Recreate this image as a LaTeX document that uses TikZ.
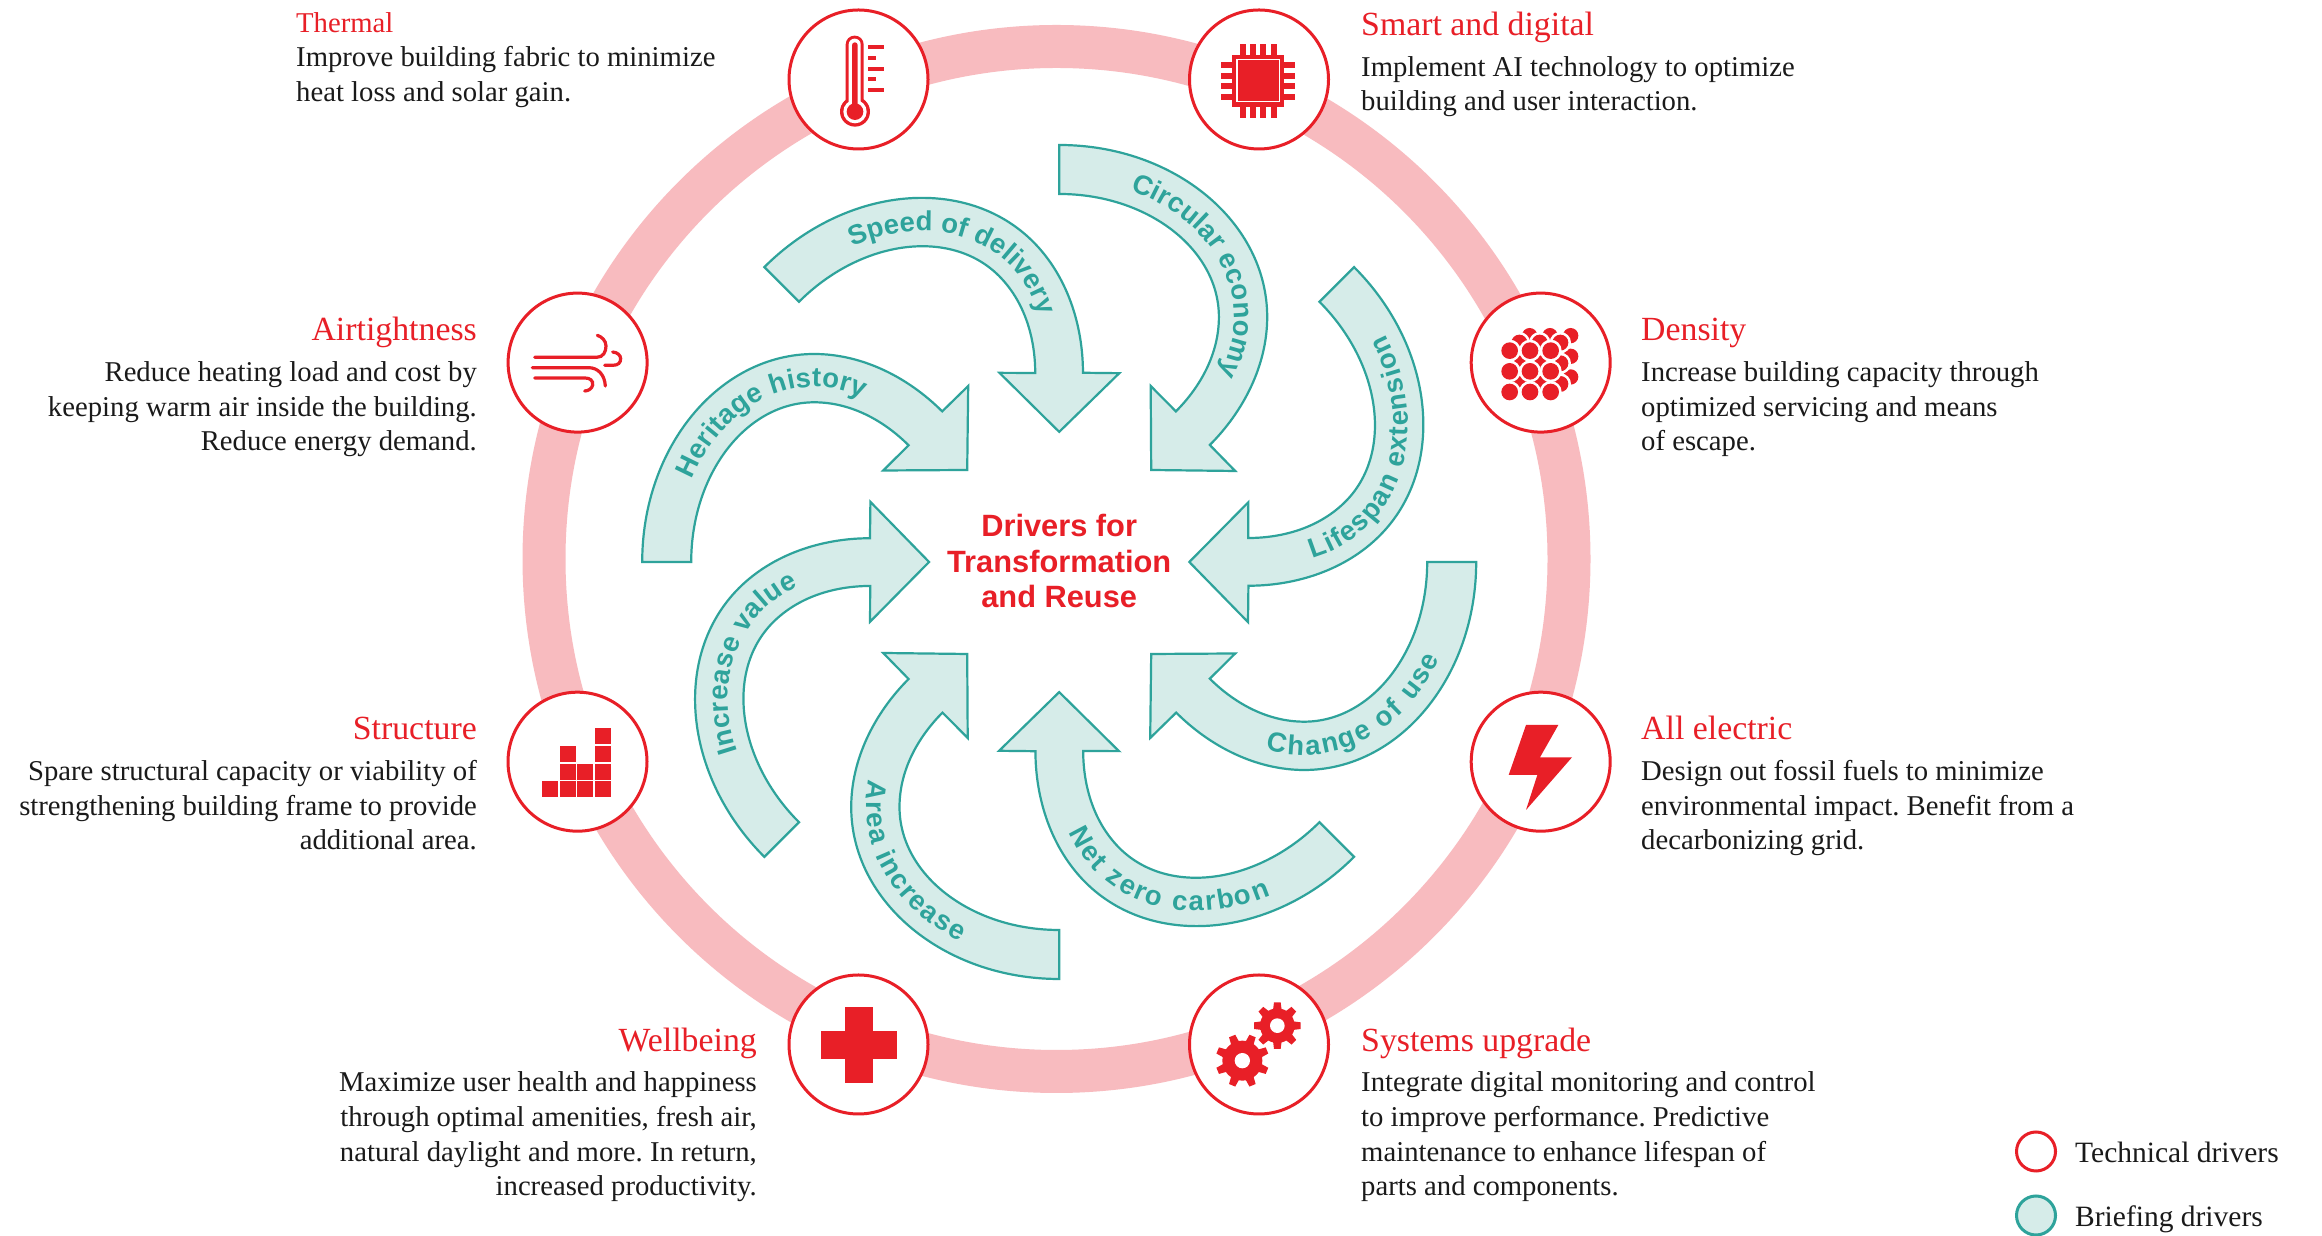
\documentclass[tikz,border=0pt]{standalone}
\usepackage{fontspec}
\setmainfont{Liberation Serif}
\newfontfamily\sansf{Liberation Sans}
\usetikzlibrary{decorations.text}
\frenchspacing
\definecolor{redc}{HTML}{E81F27}
\definecolor{pinkc}{HTML}{F8BBBF}
\definecolor{tealc}{HTML}{2EA39B}
\definecolor{tealf}{HTML}{D6ECE9}
\definecolor{inkc}{HTML}{1A1A1A}
\newcommand\arrowfont{\sansf\bfseries\fontsize{27.5}{27.5}\selectfont\color{tealc}}
\newcommand\bodyfont{\frenchspacing\fontsize{28.7}{34.7}\selectfont}
\newcommand\titlefont{\fontsize{33.8}{34.7}\selectfont}
\newcommand\ttl[1]{{\titlefont\color{redc}#1}}
\newcommand\drivertext[6]{%
  \path[rotate=#1,decorate,decoration={text along path,text align={fit to path},text={|\arrowfont|#6}}]
    (0,245) ++(#4:#2 and #3) arc[start angle=#4,end angle=#5,x radius=#2,y radius=#3];}
\tikzset{
  zoomed/.style 2 args={shift={(#1,#2)},x=0.33333pt,y=-0.33333pt},
  iconline/.style={draw=redc,line width=3.2pt,line cap=round,fill=none},
  driver/.style={circle,draw=redc,line width=3pt,fill=white,minimum size=139pt,inner sep=0pt},
  legendtech/.style={circle,draw=redc,line width=3pt,fill=white,minimum size=39pt,inner sep=0pt},
  legendbrief/.style={circle,draw=tealc,line width=3pt,fill=tealf,minimum size=39pt,inner sep=0pt},
  leftblock/.style={anchor=base west,align=left,inner sep=0pt,text=inkc,font=\bodyfont},
  rightblock/.style={anchor=base east,align=right,inner sep=0pt,text=inkc,font=\bodyfont},
  legendtext/.style={anchor=base west,inner sep=0pt,text=inkc,font=\fontsize{29.5}{34}\selectfont},
  centretext/.style={align=center,inner sep=0pt,text=redc,font=\sansf\bfseries\fontsize{30.8}{35.5}\selectfont},
  arrowshape/.style={fill=tealf,draw=tealc,line width=2.2pt,line join=miter}
}
\newcommand\gearshape[5]{% cx cy outer body rot
  \foreach \t in {0,45,...,315}{
    \fill[redc,rotate around={\t+#5:(#1,#2)}] (#1-13,#2-#4+6) -- (#1-10,#2-#3) -- (#1+10,#2-#3) -- (#1+13,#2-#4+6) -- cycle;
  }
}
\begin{document}
\begin{tikzpicture}[x=1pt,y=1pt]
\useasboundingbox (0,0) rectangle (2322,1236);
\fill[white] (0,0) rectangle (2322,1236);
% ring
\draw[pinkc,line width=43pt] (1056.5,1236-559) circle[radius=512.5];
% arrows
\begin{scope}[shift={(1059.2,674)}]
\foreach \a in {45,0,-45,-90,-135,-180,-225,-270}{
  \draw[arrowshape,rotate=\a]
    (0,417) .. controls (115,417) and (208,340) .. (208,245)
    .. controls (208,197) and (184.6,151) .. (150.6,117)
    -- (176,91) -- (92,92) -- (91.5,176) -- (116.7,150.6)
    .. controls (142,176) and (159.7,209) .. (159.7,245)
    .. controls (159.7,313) and (88,368) .. (0,368) -- cycle;
}
% arrow labels
\drivertext{45}{175}{138.5}{64}{-24}{Speed of delivery}
\drivertext{0}{175}{138.5}{66}{-24}{Circular economy}
\drivertext{-45}{193}{156.5}{-24}{69}{Lifespan extension}
\drivertext{-90}{193}{156.5}{-14.3}{60}{Change of use}
\drivertext{-135}{193}{156.5}{-17.5}{63.5}{Net zero carbon}
\drivertext{-180}{193}{156.5}{-10}{59}{Area increase}
\drivertext{135}{175}{138.5}{57.7}{-18}{Increase value}
\drivertext{90}{175}{138.5}{61.8}{-20.5}{Heritage history}
\end{scope}
\begin{scope}[shift={(0,1236)},y=-1pt]
% driver circles
\node[driver] (thermal) at (858.5,79.5) {};
\node[driver] (smart) at (1259,79.5) {};
\node[driver] (density) at (1540.7,362.6) {};
\node[driver] (electric) at (1540.7,761.7) {};
\node[driver] (systems) at (1259,1044.5) {};
\node[driver] (wellbeing) at (858.5,1044.5) {};
\node[driver] (structure) at (577.5,761.7) {};
\node[driver] (airtight) at (577.6,362.6) {};
% thermometer
\begin{scope}[zoomed={780}{0}]
  \fill[redc] (225,335) circle[radius=45];
  \fill[redc,rounded corners=8.8pt] (197,107) rectangle (251,335);
  \fill[white] (225,335) circle[radius=35];
  \fill[white,rounded corners=5.8pt] (206,116) rectangle (242,335);
  \fill[redc,rounded corners=2.8pt] (216,127) rectangle (233,325);
  \fill[redc] (225,335) circle[radius=25];
  \foreach \yy/\xx in {141/312,173/288,206/312,237/288,269/312}{
    \fill[redc] (264,\yy-6) rectangle (\xx,\yy+6);
  }
\end{scope}
% chip
\begin{scope}[zoomed={1180}{0}]
  \foreach \p in {180,210,240,273}{
    \fill[redc] (\p,132) rectangle (\p+18,353);
  }
  \foreach \p in {185,218,248,282}{
    \fill[redc] (123,\p) rectangle (345,\p+18);
  }
  \fill[redc] (157,165) rectangle (312,320);
  \draw[white,line width=1.3pt] (171,179) rectangle (298,305);
\end{scope}
% density
\begin{scope}[zoomed={1460}{270}]
  \foreach \dx/\dy/\r in {60/-45/23,29/-24/24,0/0/25}{
    \foreach \cx in {149,210,272}{
      \foreach \cy in {242,304,366}{
        \fill[white] (\cx+\dx,\cy+\dy) circle[radius=\r+8];
        \fill[redc] (\cx+\dx,\cy+\dy) circle[radius=\r];
      }
    }
  }
\end{scope}
% lightning
\begin{scope}[zoomed={1460}{680}]
  \fill[redc] (198,135) -- (295,135) -- (240,232) -- (336,232) -- (198,390) -- (232,285) -- (146,285) -- cycle;
\end{scope}
% gears
\begin{scope}[zoomed={1180}{960}]
  \gearshape{292}{197}{70}{52}{0}
  \fill[redc] (292,197) circle[radius=52];
  \fill[white] (292,197) circle[radius=22];
  \gearshape{187}{302}{80}{60}{22.5}
  \fill[redc] (187,302) circle[radius=60];
  \fill[white] (187,302) circle[radius=23];
\end{scope}
% cross
\begin{scope}[zoomed={780}{970}]
  \fill[redc] (124,183) rectangle (351,267);
  \fill[redc] (196,111) rectangle (279,338);
\end{scope}
% blocks
\begin{scope}[zoomed={500}{680}]
  \foreach \xa/\ya/\xb/\yb in {126/302/174/351,180/302/228/351,231/302/279/351,285/302/333/351,180/252/228/299,231/252/279/299,285/252/333/299,180/198/228/246,285/198/333/246,285/144/333/192}{
    \fill[redc] (\xa,\ya) rectangle (\xb,\yb);
  }
\end{scope}
% wind
\begin{scope}[zoomed={500}{280}]
  \draw[iconline] (104,232) -- (290,232) .. controls (310,232) and (318,215) .. (318,198) .. controls (318,182) and (305,170) .. (292,166);
  \draw[iconline] (314,256) -- (338,256) .. controls (355,256) and (362,248) .. (362,236) .. controls (362,226) and (352,217) .. (338,216);
  \draw[iconline] (97,263) -- (265,263) .. controls (295,263) and (314,285) .. (316,318);
  \draw[iconline] (104,294) -- (255,294) .. controls (270,294) and (280,302) .. (278,315) .. controls (276,325) and (266,333) .. (254,333);
\end{scope}
% centre
\node[centretext] (centre) at (1059.2,561.5) {Drivers for\\Transformation\\and Reuse};
% text
\node[leftblock] (tthermal) at (296,101.7) {{\color{redc}Thermal}\\Improve building fabric to minimize\\heat loss and solar gain.};
\node[leftblock] (tsmart) at (1361,111) {\ttl{Smart and digital}\\[6pt]Implement AI technology to optimize\\building and user interaction.};
\node[leftblock] (tdensity) at (1641,451) {\ttl{Density}\\[6pt]Increase building capacity through\\optimized servicing and means\\of escape.};
\node[leftblock] (telectric) at (1641,850) {\ttl{All electric}\\[6pt]Design out fossil fuels to minimize\\environmental impact. Benefit from a\\decarbonizing grid.};
\node[leftblock] (tsystems) at (1361,1196) {\ttl{Systems upgrade}\\[6pt]Integrate digital monitoring and control\\to improve performance. Predictive\\maintenance to enhance lifespan of\\parts and components.};
\node[rightblock] (twell) at (757,1196) {\ttl{Wellbeing}\\[6pt]Maximize user health and happiness\\through optimal amenities, fresh air,\\natural daylight and more. In return,\\increased productivity.};
\node[rightblock] (tstruct) at (477,850) {\ttl{Structure}\\[6pt]Spare structural capacity or viability of\\strengthening building frame to provide\\additional area.};
\node[rightblock] (tair) at (477,451) {\ttl{Airtightness}\\[6pt]Reduce heating load and cost by\\keeping warm air inside the building.\\Reduce energy demand.};
% legend
\node[legendtech] (ltech) at (2036,1151.5) {};
\node[legendbrief] (lbrief) at (2036,1215.5) {};
\node[legendtext] (ltt) at (2075,1163) {Technical drivers};
\node[legendtext] (lbt) at (2075,1227) {Briefing drivers};
\end{scope}
\end{tikzpicture}
\end{document}
